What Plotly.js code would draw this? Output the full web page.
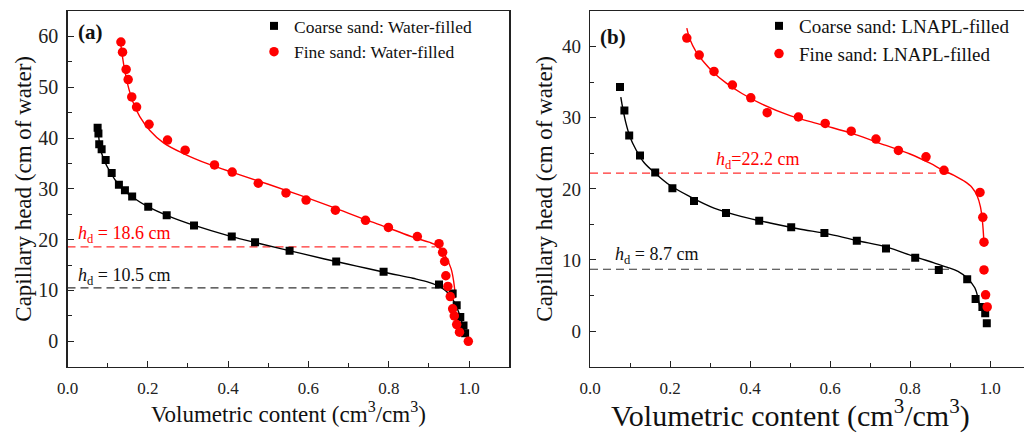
<!DOCTYPE html>
<html>
<head>
<meta charset="utf-8">
<script src="https://cdn.plot.ly/plotly-3.0.1.min.js"></script>
<style>
  html, body { margin: 0; padding: 0; background: #fff; }
  #chart { width: 1024px; height: 433px; }
</style>
</head>
<body>
<div id="chart"></div>
<script>
// ---- (a) water-filled retention data ----
const coarseWaterX = [0.075, 0.077, 0.079, 0.085, 0.095, 0.110, 0.128, 0.143, 0.161, 0.201, 0.247, 0.315, 0.409, 0.467, 0.553, 0.669, 0.787, 0.925, 0.959, 0.969, 0.978, 0.986, 0.990];
const coarseWaterY = [42.0, 40.9, 38.8, 37.8, 35.7, 33.1, 30.8, 29.7, 28.5, 26.5, 24.8, 22.8, 20.6, 19.5, 17.8, 15.7, 13.7, 11.2, 9.4, 7.1, 4.8, 3.1, 1.6];
const fineWaterX = [0.133, 0.137, 0.146, 0.151, 0.160, 0.172, 0.203, 0.249, 0.293, 0.366, 0.410, 0.475, 0.544, 0.594, 0.667, 0.742, 0.799, 0.871, 0.925, 0.934, 0.939, 0.942, 0.947, 0.953, 0.959, 0.963, 0.969, 0.976, 0.998];
const fineWaterY = [58.9, 56.9, 53.5, 51.5, 48.1, 46.1, 42.7, 39.6, 37.6, 34.7, 33.3, 31.1, 29.2, 27.8, 25.8, 23.8, 22.4, 20.6, 19.2, 17.5, 15.7, 12.9, 10.8, 8.8, 6.4, 5.0, 3.3, 1.8, 0.0];
// fitted retention curves (a)
const coarseWaterFitX = [0.077, 0.080, 0.085, 0.093, 0.105, 0.12, 0.14, 0.165, 0.20, 0.25, 0.32, 0.40, 0.48, 0.56, 0.64, 0.72, 0.80, 0.86, 0.90, 0.93, 0.95, 0.965, 0.975, 0.983, 0.99];
const coarseWaterFitY = [40.9, 38.8, 37.0, 35.3, 33.5, 31.6, 29.8, 28.2, 26.5, 24.7, 22.7, 20.8, 19.2, 17.7, 16.2, 14.8, 13.4, 12.4, 11.6, 10.6, 9.3, 7.4, 5.5, 3.5, 1.3];
const fineWaterFitX = [0.131, 0.136, 0.142, 0.150, 0.162, 0.180, 0.205, 0.24, 0.29, 0.35, 0.42, 0.50, 0.58, 0.66, 0.74, 0.80, 0.86, 0.90, 0.92, 0.94, 0.955, 0.962, 0.966];
const fineWaterFitY = [59.5, 56.5, 53.5, 50.5, 47.3, 44.2, 41.5, 39.0, 36.9, 34.9, 33.0, 30.9, 28.7, 26.4, 24.0, 22.3, 20.5, 19.5, 18.8, 16.9, 14.3, 11.5, 8.5];
// displacement heads (a)
const hdCoarseWater = 10.5;
const hdFineWater = 18.6;

// ---- (b) LNAPL-filled retention data ----
const coarseLnaplX = [0.075, 0.086, 0.098, 0.125, 0.163, 0.206, 0.26, 0.34, 0.423, 0.503, 0.586, 0.667, 0.74, 0.813, 0.872, 0.943, 0.964, 0.981, 0.988, 0.992];
const coarseLnaplY = [34.3, 31.0, 27.5, 24.7, 22.3, 20.1, 18.3, 16.6, 15.5, 14.6, 13.8, 12.7, 11.6, 10.3, 8.6, 7.3, 4.5, 3.4, 2.5, 1.1];
const fineLnaplX = [0.242, 0.273, 0.31, 0.356, 0.402, 0.443, 0.521, 0.588, 0.653, 0.715, 0.771, 0.84, 0.885, 0.975, 0.982, 0.985, 0.985, 0.989, 0.993];
const fineLnaplY = [41.2, 38.8, 36.5, 34.6, 32.8, 30.7, 30.1, 29.2, 28.1, 27.0, 25.4, 24.5, 22.6, 19.5, 16.0, 12.5, 8.6, 5.1, 3.4];
// fitted retention curves (b)
const coarseLnaplFitX = [0.077, 0.082, 0.09, 0.10, 0.115, 0.135, 0.163, 0.20, 0.25, 0.31, 0.38, 0.45, 0.52, 0.60, 0.67, 0.742, 0.81, 0.86, 0.892, 0.92, 0.942, 0.962, 0.971, 0.976];
const coarseLnaplFitY = [32.9, 31.3, 29.2, 27.3, 25.5, 23.7, 22.2, 20.5, 18.9, 17.3, 16.1, 15.2, 14.4, 13.6, 12.7, 11.8, 10.5, 9.6, 9.0, 8.4, 7.5, 6.1, 4.4, 3.0];
const fineLnaplFitX = [0.242, 0.25, 0.265, 0.285, 0.31, 0.34, 0.38, 0.43, 0.50, 0.58, 0.66, 0.74, 0.80, 0.85, 0.883, 0.91, 0.935, 0.955, 0.968, 0.976, 0.981, 0.985];
const fineLnaplFitY = [42.6, 41.0, 39.3, 37.8, 36.3, 34.9, 33.4, 31.9, 30.3, 29.0, 27.7, 26.1, 24.9, 23.6, 22.6, 21.9, 21.1, 20.2, 19.0, 17.5, 15.5, 12.4];
// displacement heads (b)
const hdCoarseLnapl = 8.7;
const hdFineLnapl = 22.2;

// extent of the h_d guide lines along the x axis
const hdLineEndA = [0.928, 0.915]; // coarse, fine
const hdLineEndB = [0.90, 0.91];

const xTickVals = [0, 0.2, 0.4, 0.6, 0.8, 1.0];
const xTickText = ['0.0', '0.2', '0.4', '0.6', '0.8', '1.0'];
const yTickValsA = [0, 10, 20, 30, 40, 50, 60];
const yTickValsB = [0, 10, 20, 30, 40];

const RED = '#ff0000';
const BLACK = '#000000';
const SERIF = '"Liberation Serif", "Times New Roman", serif';
const X_TITLE = 'Volumetric content (cm<sup>3</sup>/cm<sup>3</sup>)';

const traces = [
  // panel (a)
  {x: [0, hdLineEndA[1]], y: [hdFineWater, hdFineWater], mode: 'lines', xaxis: 'x', yaxis: 'y',
   line: {color: '#ff3030', width: 1.2, dash: '8px,5px'}, showlegend: false, hoverinfo: 'skip'},
  {x: [0, hdLineEndA[0]], y: [hdCoarseWater, hdCoarseWater], mode: 'lines', xaxis: 'x', yaxis: 'y',
   line: {color: '#333333', width: 1.2, dash: '8px,5px'}, showlegend: false, hoverinfo: 'skip'},
  {x: coarseWaterFitX, y: coarseWaterFitY, mode: 'lines', xaxis: 'x', yaxis: 'y',
   line: {color: BLACK, width: 1.4, shape: 'spline'}, showlegend: false},
  {x: fineWaterFitX, y: fineWaterFitY, mode: 'lines', xaxis: 'x', yaxis: 'y',
   line: {color: RED, width: 1.4, shape: 'spline'}, showlegend: false},
  {x: coarseWaterX, y: coarseWaterY, mode: 'markers', xaxis: 'x', yaxis: 'y', name: 'Coarse sand: Water-filled',
   marker: {symbol: 'square', size: 8, color: BLACK}, legend: 'legend'},
  {x: fineWaterX, y: fineWaterY, mode: 'markers', xaxis: 'x', yaxis: 'y', name: 'Fine sand: Water-filled',
   marker: {symbol: 'circle', size: 9.5, color: RED}, legend: 'legend'},

  // panel (b)
  {x: [0, hdLineEndB[1]], y: [hdFineLnapl, hdFineLnapl], mode: 'lines', xaxis: 'x2', yaxis: 'y2',
   line: {color: '#ff3030', width: 1.2, dash: '8px,5px'}, showlegend: false, hoverinfo: 'skip'},
  {x: [0, hdLineEndB[0]], y: [hdCoarseLnapl, hdCoarseLnapl], mode: 'lines', xaxis: 'x2', yaxis: 'y2',
   line: {color: '#333333', width: 1.2, dash: '8px,5px'}, showlegend: false, hoverinfo: 'skip'},
  {x: coarseLnaplFitX, y: coarseLnaplFitY, mode: 'lines', xaxis: 'x2', yaxis: 'y2',
   line: {color: BLACK, width: 1.4, shape: 'spline'}, showlegend: false},
  {x: fineLnaplFitX, y: fineLnaplFitY, mode: 'lines', xaxis: 'x2', yaxis: 'y2',
   line: {color: RED, width: 1.4, shape: 'spline'}, showlegend: false},
  {x: coarseLnaplX, y: coarseLnaplY, mode: 'markers', xaxis: 'x2', yaxis: 'y2', name: 'Coarse sand: LNAPL-filled',
   marker: {symbol: 'square', size: 8, color: BLACK}, legend: 'legend2'},
  {x: fineLnaplX, y: fineLnaplY, mode: 'markers', xaxis: 'x2', yaxis: 'y2', name: 'Fine sand: LNAPL-filled',
   marker: {symbol: 'circle', size: 9.5, color: RED}, legend: 'legend2'}
];

function xAxis(domain, range, title) {
  return {
    domain: domain, range: range, anchor: domain[0] < 0.5 ? 'y' : 'y2',
    showline: true, linecolor: '#222', linewidth: 1.3, mirror: true,
    showgrid: false, zeroline: false,
    ticks: 'inside', ticklen: 6, tickwidth: 1, tickcolor: '#222',
    tickvals: xTickVals, ticktext: xTickText,
    minor: {dtick: 0.1, tick0: 0, ticks: 'inside', ticklen: 3.5, tickwidth: 1, tickcolor: '#222'},
    tickfont: {family: SERIF, size: 17, color: '#222'},
    ticklabelstandoff: 6,
    title: title
  };
}

function yAxis(domain, range, tickvals, anchor, mirror, tickSize, standoff) {
  return {
    domain: domain, range: range, anchor: anchor,
    showline: true, linecolor: '#222', linewidth: 1.3, mirror: mirror,
    showgrid: false, zeroline: false,
    ticks: 'inside', ticklen: 6, tickwidth: 1, tickcolor: '#222',
    tickvals: tickvals,
    minor: {dtick: 5, tick0: 0, ticks: 'inside', ticklen: 4, tickwidth: 1, tickcolor: '#222'},
    tickfont: {family: SERIF, size: tickSize, color: '#222'},
    ticklabelstandoff: 4,
    title: {text: 'Capillary head (cm of water)', font: {family: SERIF, size: 23, color: '#111'}, standoff: standoff}
  };
}

const yDomain = [(433 - 366.7) / 433, (433 - 11) / 433];

const layout = {
  width: 1024, height: 433,
  margin: {l: 0, r: 0, t: 0, b: 0},
  paper_bgcolor: '#fff', plot_bgcolor: '#fff',
  font: {family: SERIF, color: '#111'},
  xaxis: xAxis([67.5 / 1024, 509.3 / 1024], [0, 1.1],
               {text: X_TITLE, font: {family: SERIF, size: 23, color: '#111'}, standoff: 6}),
  yaxis: yAxis(yDomain, [-5, 65], yTickValsA, 'x', true, 20, 0),
  // panel (b) x title is placed as an annotation below, centred under the 0–1 span
  xaxis2: xAxis([590 / 1024, 1], [0, 1.085], {text: ''}),
  yaxis2: yAxis(yDomain, [-5, 45], yTickValsB, 'x2', false, 19, 2),
  legend: {x: 254 / 1024, y: (433 - 8) / 433, xanchor: 'left', yanchor: 'top',
           bgcolor: 'rgba(0,0,0,0)', font: {family: SERIF, size: 17.5, color: '#111'}},
  legend2: {x: 759 / 1024, y: (433 - 7) / 433, xanchor: 'left', yanchor: 'top',
            bgcolor: 'rgba(0,0,0,0)', font: {family: SERIF, size: 19, color: '#111'}},
  annotations: [
    {xref: 'x', yref: 'y', x: 0.02, y: 60.8, text: '<b>(a)</b>', showarrow: false, xanchor: 'left',
     font: {family: SERIF, size: 21, color: '#111'}},
    {xref: 'x2', yref: 'y2', x: 0.02, y: 41.4, text: '<b>(b)</b>', showarrow: false, xanchor: 'left',
     font: {family: SERIF, size: 21, color: '#111'}},
    {xref: 'x', yref: 'y', x: 0.021, y: 21.1, text: '<i>h</i><sub>d</sub> = ' + hdFineWater + ' cm', showarrow: false,
     xanchor: 'left', font: {family: SERIF, size: 18, color: RED}},
    {xref: 'x', yref: 'y', x: 0.021, y: 12.7, text: '<i>h</i><sub>d</sub> = ' + hdCoarseWater + ' cm', showarrow: false,
     xanchor: 'left', font: {family: SERIF, size: 18, color: '#111'}},
    {xref: 'x2', yref: 'y2', x: 0.31, y: 24.0, text: '<i>h</i><sub>d</sub>=' + hdFineLnapl + ' cm', showarrow: false,
     xanchor: 'left', font: {family: SERIF, size: 18, color: RED}},
    {xref: 'x2', yref: 'y2', x: 0.0575, y: 10.7, text: '<i>h</i><sub>d</sub> = ' + hdCoarseLnapl + ' cm', showarrow: false,
     xanchor: 'left', font: {family: SERIF, size: 18, color: '#111'}},
    {xref: 'paper', yref: 'paper', x: 790 / 1024, y: (433 - 413) / 433, text: X_TITLE, showarrow: false,
     xanchor: 'center', yanchor: 'middle', font: {family: SERIF, size: 30, color: '#111'}}
  ],
  showlegend: true
};

Plotly.newPlot('chart', traces, layout, {displayModeBar: false, staticPlot: true});
</script>
</body>
</html>
